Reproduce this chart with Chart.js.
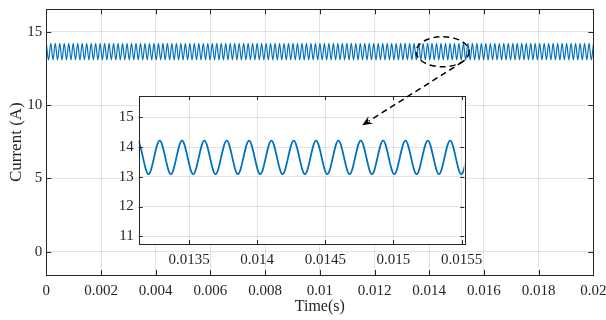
<!DOCTYPE html>
<html>
<head>
<meta charset="utf-8">
<script src="https://cdn.jsdelivr.net/npm/chart.js@4.4.1/dist/chart.umd.min.js"></script>
<style>
  body { margin: 0; background: #fff; }
  #wrap { position: relative; width: 606px; height: 320px; }
  #wrap canvas { position: absolute; left: 0; top: 0; }
</style>
</head>
<body>
<div id="wrap">
  <canvas id="mainChart" width="606" height="320"></canvas>
  <canvas id="insetChart" width="606" height="320"></canvas>
</div>
<script>
// sample times (s) - peaks and troughs of the ripple
const timeS = [
  0, 0.000082, 0.000164, 0.000246, 0.000328, 0.00041, 0.000492, 0.000574, 0.000656, 0.000738,
  0.00082, 0.000902, 0.000984, 0.001066, 0.001148, 0.00123, 0.001312, 0.001394, 0.001476, 0.001558,
  0.00164, 0.001722, 0.001804, 0.001886, 0.001968, 0.00205, 0.002132, 0.002214, 0.002296, 0.002378,
  0.00246, 0.002542, 0.002624, 0.002706, 0.002788, 0.00287, 0.002952, 0.003034, 0.003116, 0.003198,
  0.00328, 0.003362, 0.003444, 0.003526, 0.003608, 0.00369, 0.003772, 0.003854, 0.003936, 0.004018,
  0.0041, 0.004182, 0.004264, 0.004346, 0.004428, 0.00451, 0.004592, 0.004674, 0.004756, 0.004838,
  0.00492, 0.005002, 0.005084, 0.005166, 0.005248, 0.00533, 0.005412, 0.005494, 0.005576, 0.005658,
  0.00574, 0.005822, 0.005904, 0.005986, 0.006068, 0.00615, 0.006232, 0.006314, 0.006396, 0.006478,
  0.00656, 0.006642, 0.006724, 0.006806, 0.006888, 0.00697, 0.007052, 0.007134, 0.007216, 0.007298,
  0.00738, 0.007462, 0.007544, 0.007626, 0.007708, 0.00779, 0.007872, 0.007954, 0.008036, 0.008118,
  0.0082, 0.008282, 0.008364, 0.008446, 0.008528, 0.00861, 0.008692, 0.008774, 0.008856, 0.008938,
  0.00902, 0.009102, 0.009184, 0.009266, 0.009348, 0.00943, 0.009512, 0.009594, 0.009676, 0.009758,
  0.00984, 0.009922, 0.010004, 0.010086, 0.010168, 0.01025, 0.010332, 0.010414, 0.010496, 0.010578,
  0.01066, 0.010742, 0.010824, 0.010906, 0.010988, 0.01107, 0.011152, 0.011234, 0.011316, 0.011398,
  0.01148, 0.011562, 0.011644, 0.011726, 0.011808, 0.01189, 0.011972, 0.012054, 0.012136, 0.012218,
  0.0123, 0.012382, 0.012464, 0.012546, 0.012628, 0.01271, 0.012792, 0.012874, 0.012956, 0.013038,
  0.01312, 0.013202, 0.013284, 0.013366, 0.013448, 0.01353, 0.013612, 0.013694, 0.013776, 0.013858,
  0.01394, 0.014022, 0.014104, 0.014186, 0.014268, 0.01435, 0.014432, 0.014514, 0.014596, 0.014678,
  0.01476, 0.014842, 0.014924, 0.015006, 0.015088, 0.01517, 0.015252, 0.015334, 0.015416, 0.015498,
  0.01558, 0.015662, 0.015744, 0.015826, 0.015908, 0.01599, 0.016072, 0.016154, 0.016236, 0.016318,
  0.0164, 0.016482, 0.016564, 0.016646, 0.016728, 0.01681, 0.016892, 0.016974, 0.017056, 0.017138,
  0.01722, 0.017302, 0.017384, 0.017466, 0.017548, 0.01763, 0.017712, 0.017794, 0.017876, 0.017958,
  0.01804, 0.018122, 0.018204, 0.018286, 0.018368, 0.01845, 0.018532, 0.018614, 0.018696, 0.018778,
  0.01886, 0.018942, 0.019024, 0.019106, 0.019188, 0.01927, 0.019352, 0.019434, 0.019516, 0.019598,
  0.01968, 0.019762, 0.019844, 0.019926, 0.020008
];
// current (A) at those times
const currentA = [
  14.22, 13.09, 14.22, 13.09, 14.22, 13.09, 14.22, 13.09, 14.22, 13.09,
  14.22, 13.09, 14.22, 13.09, 14.22, 13.09, 14.22, 13.09, 14.22, 13.09,
  14.22, 13.09, 14.22, 13.09, 14.22, 13.09, 14.22, 13.09, 14.22, 13.09,
  14.22, 13.09, 14.22, 13.09, 14.22, 13.09, 14.22, 13.09, 14.22, 13.09,
  14.22, 13.09, 14.22, 13.09, 14.22, 13.09, 14.22, 13.09, 14.22, 13.09,
  14.22, 13.09, 14.22, 13.09, 14.22, 13.09, 14.22, 13.09, 14.22, 13.09,
  14.22, 13.09, 14.22, 13.09, 14.22, 13.09, 14.22, 13.09, 14.22, 13.09,
  14.22, 13.09, 14.22, 13.09, 14.22, 13.09, 14.22, 13.09, 14.22, 13.09,
  14.22, 13.09, 14.22, 13.09, 14.22, 13.09, 14.22, 13.09, 14.22, 13.09,
  14.22, 13.09, 14.22, 13.09, 14.22, 13.09, 14.22, 13.09, 14.22, 13.09,
  14.22, 13.09, 14.22, 13.09, 14.22, 13.09, 14.22, 13.09, 14.22, 13.09,
  14.22, 13.09, 14.22, 13.09, 14.22, 13.09, 14.22, 13.09, 14.22, 13.09,
  14.22, 13.09, 14.22, 13.09, 14.22, 13.09, 14.22, 13.09, 14.22, 13.09,
  14.22, 13.09, 14.22, 13.09, 14.22, 13.09, 14.22, 13.09, 14.22, 13.09,
  14.22, 13.09, 14.22, 13.09, 14.22, 13.09, 14.22, 13.09, 14.22, 13.09,
  14.22, 13.09, 14.22, 13.09, 14.22, 13.09, 14.22, 13.09, 14.22, 13.09,
  14.22, 13.09, 14.22, 13.09, 14.22, 13.09, 14.22, 13.09, 14.22, 13.09,
  14.22, 13.09, 14.22, 13.09, 14.22, 13.09, 14.22, 13.09, 14.22, 13.09,
  14.22, 13.09, 14.22, 13.09, 14.22, 13.09, 14.22, 13.09, 14.22, 13.09,
  14.22, 13.09, 14.22, 13.09, 14.22, 13.09, 14.22, 13.09, 14.22, 13.09,
  14.22, 13.09, 14.22, 13.09, 14.22, 13.09, 14.22, 13.09, 14.22, 13.09,
  14.22, 13.09, 14.22, 13.09, 14.22, 13.09, 14.22, 13.09, 14.22, 13.09,
  14.22, 13.09, 14.22, 13.09, 14.22, 13.09, 14.22, 13.09, 14.22, 13.09,
  14.22, 13.09, 14.22, 13.09, 14.22, 13.09, 14.22, 13.09, 14.22, 13.09,
  14.22, 13.09, 14.22, 13.09, 14.22
];

// tick labels
const mainTimeTicks = [0, 0.002, 0.004, 0.006, 0.008, 0.01, 0.012, 0.014, 0.016, 0.018, 0.02];
const mainCurrentTicks = [0, 5, 10, 15];
const insetTimeTicks = [0.0135, 0.014, 0.0145, 0.015, 0.0155];
const insetCurrentTicks = [11, 12, 13, 14, 15];

// zoom marker (ellipse) and arrow, in main-axis units
const zoomMark = { t: 0.01449, i: 13.65, dt: 0.00097, di: 1.03 };
const arrowFrom = [0.01523, 12.97];
const arrowTo = [0.01155, 8.63];

const FONT = "'Liberation Serif', 'Times New Roman', serif";
const INK = '#262626';
const BLUE = '#0072BD';
const GRID = 'rgba(0,0,0,0.11)';

// MATLAB-like box with inward ticks
const boxTicks = {
  id: 'boxTicks',
  afterDatasetsDraw(chart, args, opts) {
    const { ctx, chartArea: a, scales: { x, y } } = chart;
    const len = opts.len || 5;
    ctx.save();
    ctx.strokeStyle = INK;
    ctx.lineWidth = 1;
    ctx.beginPath();
    x.ticks.forEach(t => {
      const px = Math.round(x.getPixelForValue(t.value)) + 0.5;
      ctx.moveTo(px, a.bottom); ctx.lineTo(px, a.bottom - len);
      ctx.moveTo(px, a.top); ctx.lineTo(px, a.top + len);
    });
    y.ticks.forEach(t => {
      const py = Math.round(y.getPixelForValue(t.value)) + 0.5;
      ctx.moveTo(a.left, py); ctx.lineTo(a.left + len, py);
      ctx.moveTo(a.right, py); ctx.lineTo(a.right - len, py);
    });
    ctx.stroke();
    ctx.strokeRect(Math.round(a.left) + 0.5, Math.round(a.top) + 0.5,
      Math.round(a.right - a.left), Math.round(a.bottom - a.top));
    ctx.restore();
  }
};

const whiteArea = {
  id: 'whiteArea',
  beforeDraw(chart) {
    const { ctx, chartArea: a } = chart;
    ctx.save();
    ctx.fillStyle = '#fff';
    ctx.fillRect(a.left, a.top, a.right - a.left, a.bottom - a.top);
    ctx.restore();
  }
};

function fixedTicks(list) {
  return scale => { scale.ticks = list.map(v => ({ value: v })); };
}

// keep the plot box where we put it, whatever the label overhang
function fixHeight(h) {
  return s => { s.height = h; s.paddingLeft = 0; s.paddingRight = 0; };
}
function fixWidth(w) {
  return s => { s.width = w; s.paddingTop = 0; s.paddingBottom = 0; };
}

let mainChart = null;

const markers = {
  id: 'markers',
  afterDraw(chart) {
    if (!mainChart) return;
    const { ctx } = chart;
    const { x, y } = mainChart.scales;
    ctx.save();
    ctx.strokeStyle = '#000';
    ctx.lineWidth = 1.5;
    ctx.setLineDash([6, 4]);
    const cx = x.getPixelForValue(zoomMark.t), cy = y.getPixelForValue(zoomMark.i);
    const rx = x.getPixelForValue(zoomMark.t + zoomMark.dt) - cx;
    const ry = cy - y.getPixelForValue(zoomMark.i + zoomMark.di);
    ctx.beginPath();
    ctx.ellipse(cx, cy, rx, ry, 0, 0, Math.PI * 2);
    ctx.stroke();

    const x0 = x.getPixelForValue(arrowFrom[0]), y0 = y.getPixelForValue(arrowFrom[1]);
    const x1 = x.getPixelForValue(arrowTo[0]), y1 = y.getPixelForValue(arrowTo[1]);
    const ang = Math.atan2(y1 - y0, x1 - x0);
    const head = 11;
    ctx.beginPath();
    ctx.moveTo(x0, y0);
    ctx.lineTo(x1 - Math.cos(ang) * head * 0.7, y1 - Math.sin(ang) * head * 0.7);
    ctx.stroke();
    ctx.setLineDash([]);
    ctx.fillStyle = '#000';
    ctx.beginPath();
    ctx.moveTo(x1, y1);
    ctx.lineTo(x1 - Math.cos(ang - 0.4) * head, y1 - Math.sin(ang - 0.4) * head);
    ctx.lineTo(x1 - Math.cos(ang) * head * 0.6, y1 - Math.sin(ang) * head * 0.6);
    ctx.lineTo(x1 - Math.cos(ang + 0.4) * head, y1 - Math.sin(ang + 0.4) * head);
    ctx.closePath();
    ctx.fill();
    ctx.restore();
  }
};

Chart.defaults.font.family = FONT;
Chart.defaults.color = INK;

mainChart = new Chart(document.getElementById('mainChart'), {
  type: 'line',
  data: {
    labels: timeS,
    datasets: [{
      data: currentA,
      borderColor: BLUE,
      borderWidth: 1.2,
      pointRadius: 0,
      cubicInterpolationMode: 'monotone'
    }]
  },
  options: {
    responsive: false,
    devicePixelRatio: 1,
    animation: false,
    events: [],
    layout: { padding: { left: 0, right: 12.7, top: 9.3, bottom: 0 } },
    plugins: { legend: { display: false }, tooltip: { enabled: false }, boxTicks: { len: 5 } },
    scales: {
      x: {
        type: 'linear', min: 0, max: 0.02,
        afterBuildTicks: fixedTicks(mainTimeTicks),
        afterFit: fixHeight(45),
        grid: { color: GRID, drawTicks: false },
        border: { display: false },
        ticks: { font: { size: 15 }, padding: 7, maxRotation: 0, autoSkip: false, callback: v => String(v) },
        title: { display: true, text: 'Time(s)', font: { size: 16 }, padding: { top: 0, bottom: 4 } }
      },
      y: {
        type: 'linear', min: -1.6, max: 16.55,
        afterBuildTicks: fixedTicks(mainCurrentTicks),
        afterFit: fixWidth(46.3),
        grid: { color: GRID, drawTicks: false },
        border: { display: false },
        ticks: { font: { size: 15 }, padding: 4, callback: v => String(v) },
        title: { display: true, text: 'Current (A)', font: { size: 17 }, padding: { top: 6, bottom: 0 } }
      }
    }
  },
  plugins: [boxTicks]
});

new Chart(document.getElementById('insetChart'), {
  type: 'line',
  data: {
    labels: timeS,
    datasets: [{
      data: currentA,
      borderColor: BLUE,
      borderWidth: 1.8,
      pointRadius: 0,
      cubicInterpolationMode: 'monotone'
    }]
  },
  options: {
    responsive: false,
    devicePixelRatio: 1,
    animation: false,
    events: [],
    layout: { padding: { left: 98.7, right: 141.7, top: 96, bottom: 46 } },
    plugins: { legend: { display: false }, tooltip: { enabled: false }, boxTicks: { len: 4 } },
    scales: {
      x: {
        type: 'linear', min: 0.01313, max: 0.01552,
        afterBuildTicks: fixedTicks(insetTimeTicks),
        afterFit: fixHeight(30),
        grid: { color: GRID, drawTicks: false },
        border: { display: false },
        ticks: { font: { size: 15 }, padding: 7, maxRotation: 0, autoSkip: false, callback: v => String(v) }
      },
      y: {
        type: 'linear', min: 10.74, max: 15.72,
        afterBuildTicks: fixedTicks(insetCurrentTicks),
        afterFit: fixWidth(40),
        grid: { color: GRID, drawTicks: false },
        border: { display: false },
        ticks: { font: { size: 15 }, padding: 5, callback: v => String(v) }
      }
    }
  },
  plugins: [whiteArea, boxTicks, markers]
});
</script>
</body>
</html>
